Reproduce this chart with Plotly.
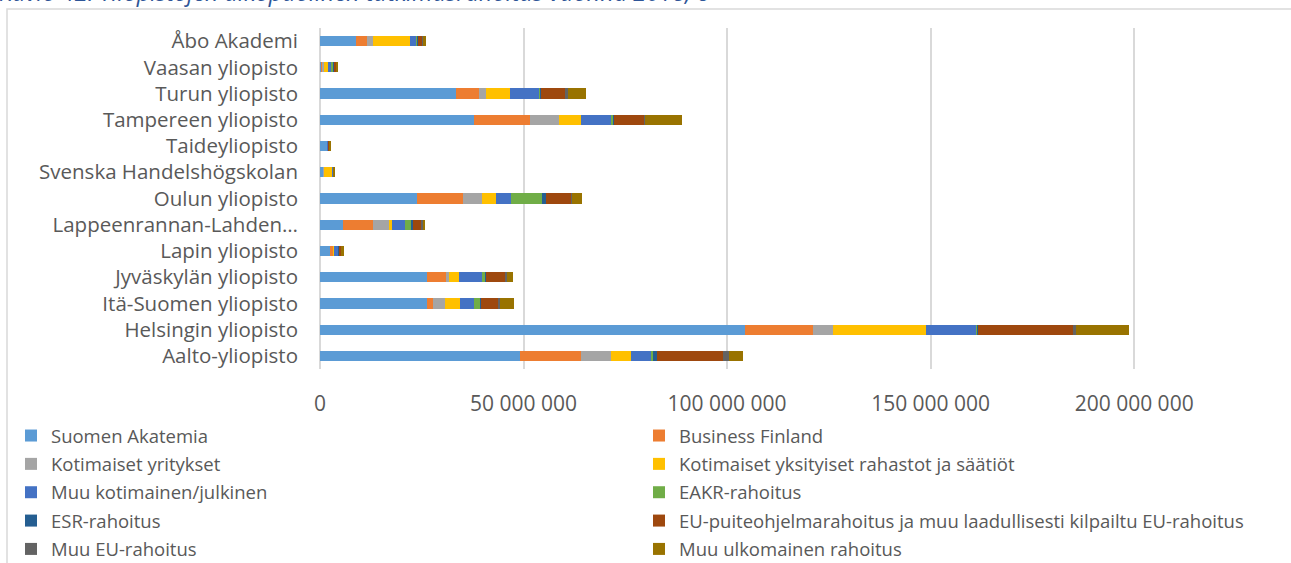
import plotly.graph_objects as go

W, H = 1291, 563

categories = ["Aalto-yliopisto", "Helsingin yliopisto", "Itä-Suomen yliopisto",
              "Jyväskylän yliopisto", "Lapin yliopisto", "Lappeenrannan-Lahden…",
              "Oulun yliopisto", "Svenska Handelshögskolan", "Taideyliopisto",
              "Tampereen yliopisto", "Turun yliopisto", "Vaasan yliopisto", "Åbo Akademi"]

suomen_akatemia = [49.2e6, 104.5e6, 26.4e6, 26.4e6, 2.5e6, 5.7e6, 23.9e6, 0.9e6, 1.8e6, 37.8e6, 33.4e6, 0.4e6, 8.8e6]
business_finland = [14.9e6, 16.6e6, 1.4e6, 4.5e6, 0.7e6, 7.4e6, 11.2e6, 0.05e6, 0.0, 13.9e6, 5.7e6, 0.2e6, 2.8e6]
kotimaiset_yritykset = [7.4e6, 4.9e6, 2.9e6, 0.7e6, 0.2e6, 3.8e6, 4.7e6, 0.1e6, 0.0, 7.0e6, 1.8e6, 0.5e6, 1.5e6]
kotimaiset_rahastot = [4.8e6, 22.9e6, 3.8e6, 2.5e6, 0.1e6, 0.8e6, 3.4e6, 2.0e6, 0.1e6, 5.5e6, 5.7e6, 0.8e6, 9.0e6]
muu_kotimainen = [5.2e6, 12.3e6, 3.4e6, 5.8e6, 1.0e6, 3.2e6, 3.8e6, 0.2e6, 0.3e6, 7.2e6, 7.4e6, 1.0e6, 1.5e6]
eakr = [0.3e6, 0.3e6, 1.5e6, 0.8e6, 0.1e6, 1.6e6, 7.5e6, 0.0, 0.0, 0.6e6, 0.1e6, 0.4e6, 0.3e6]
esr = [1.0e6, 0.1e6, 0.1e6, 0.1e6, 0.1e6, 0.3e6, 0.9e6, 0.0, 0.0, 0.1e6, 0.1e6, 0.1e6, 0.1e6]
eu_puiteohjelma = [16.2e6, 23.3e6, 4.3e6, 4.7e6, 0.6e6, 2.2e6, 6.4e6, 0.1e6, 0.2e6, 7.5e6, 6.0e6, 0.6e6, 1.1e6]
muu_eu = [1.4e6, 0.7e6, 0.4e6, 0.4e6, 0.1e6, 0.3e6, 0.1e6, 0.05e6, 0.05e6, 0.2e6, 0.6e6, 0.1e6, 0.1e6]
muu_ulkomainen = [3.4e6, 13.2e6, 3.4e6, 1.6e6, 0.4e6, 0.6e6, 2.5e6, 0.3e6, 0.05e6, 9.2e6, 4.6e6, 0.3e6, 0.8e6]

series_names = ["Suomen Akatemia", "Business Finland", "Kotimaiset yritykset",
                "Kotimaiset yksityiset rahastot ja säätiöt", "Muu kotimainen/julkinen",
                "EAKR-rahoitus", "ESR-rahoitus",
                "EU-puiteohjelmarahoitus ja muu laadullisesti kilpailtu EU-rahoitus",
                "Muu EU-rahoitus", "Muu ulkomainen rahoitus"]
series_values = [suomen_akatemia, business_finland, kotimaiset_yritykset, kotimaiset_rahastot,
                 muu_kotimainen, eakr, esr, eu_puiteohjelma, muu_eu, muu_ulkomainen]
colors = ["#5B9BD5", "#ED7D31", "#A5A5A5", "#FFC000", "#4472C4",
          "#70AD47", "#255E91", "#9E480E", "#636363", "#997300"]

title_text = "Kuvio 42. Yliopistojen ulkopuolinen tutkimusrahoitus vuonna 2018, e"
x_tickvals = [0, 50e6, 100e6, 150e6, 200e6]

# plot area in pixels
L, R, T, B = 320, 1137, 28, 369
pw, ph = R - L, B - T

def px2paper_x(px):
    return (px - L) / pw

def px2paper_y(py):
    return (B - py) / ph

fig = go.Figure()
for i, (name, vals, col) in enumerate(zip(series_names, series_values, colors)):
    fig.add_trace(go.Bar(
        y=categories, x=vals, name=name, orientation="h",
        marker=dict(color=col, line=dict(width=0)),
        legend="legend" if i % 2 == 0 else "legend2",
        legendgroup=name,
    ))

font_family = "Open Sans, DejaVu Sans, sans-serif"
legend_common = dict(
    orientation="v", xref="paper", yref="paper", xanchor="left", yanchor="top",
    font=dict(family=font_family, size=18.5, color="#595959"),
    bgcolor="rgba(0,0,0,0)", itemwidth=30, tracegroupgap=1.3, traceorder="grouped",
)

fig.update_layout(
    width=W, height=H,
    margin=dict(l=L, r=W - R, t=T, b=H - B, pad=0, autoexpand=False),
    barmode="stack", bargap=0.61,
    plot_bgcolor="white", paper_bgcolor="white",
    separators=", ",
    font=dict(family=font_family, color="#595959"),
    xaxis=dict(range=[0, 200.7e6], tickvals=x_tickvals, tickformat=",d",
               showgrid=True, gridcolor="#D9D9D9", gridwidth=1.5,
               zeroline=True, zerolinecolor="#D9D9D9", zerolinewidth=1.5,
               showline=False, ticks="", ticklabelstandoff=20,
               tickfont=dict(size=21, color="#595959", family=font_family)),
    yaxis=dict(showgrid=False, zeroline=False, showline=False, ticks="",
               ticklabelstandoff=21,
               tickfont=dict(size=20.5, color="#595959", family=font_family)),
    legend=dict(legend_common, x=px2paper_x(11), y=px2paper_y(417)),
    legend2=dict(legend_common, x=px2paper_x(639), y=px2paper_y(417)),
    showlegend=True,
    shapes=[dict(type="rect", xref="paper", yref="paper",
                 x0=px2paper_x(7), x1=px2paper_x(1300),
                 y0=px2paper_y(580), y1=px2paper_y(9),
                 line=dict(color="#D9D9D9", width=1.5), fillcolor="rgba(0,0,0,0)",
                 layer="below")],
    annotations=[dict(text="<i>" + title_text + "</i>", xref="paper", yref="paper",
                      x=px2paper_x(-3), y=px2paper_y(10), xanchor="left", yanchor="bottom",
                      showarrow=False,
                      font=dict(family=font_family, size=23.5, color="#2E5597"))],
)

fig.write_html("out.html",
               config={"displayModeBar": False},
               post_script="document.body.style.margin='0';document.body.style.overflow='hidden';")
